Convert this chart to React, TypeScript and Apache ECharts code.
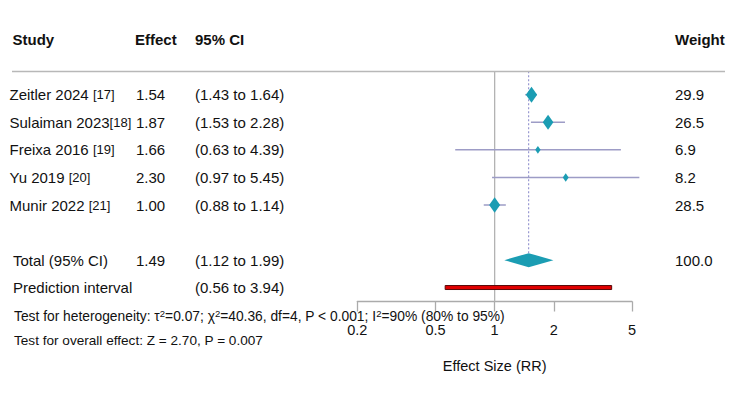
import React, { useEffect, useRef } from "react";
import * as echarts from "echarts";

// ---------- data ----------
const headers = ["Study", "Effect", "95% CI", "Weight"];
const studyNames = ["Zeitler 2024 ", "Sulaiman 2023", "Freixa 2016 ", "Yu 2019 ", "Munir 2022 "];
const studyRefs = ["[17]", "[18]", "[19]", "[20]", "[21]"];
const effects = [1.54, 1.87, 1.66, 2.3, 1.0];
const lowerCI = [1.43, 1.53, 0.63, 0.97, 0.88];
const upperCI = [1.64, 2.28, 4.39, 5.45, 1.14];
const weights = [29.9, 26.5, 6.9, 8.2, 28.5];
const studyRows = [0, 1, 2, 3, 4];

const totalLabel = "Total (95% CI)";
const totalValues = [1.49, 1.12, 1.99]; // effect, lower, upper
const totalWeight = 100.0;
const totalRow = 6;

const predictionLabel = "Prediction interval";
const predictionValues = [0.56, 3.94];
const predictionRow = 7;

const xTicks = [0.2, 0.5, 1, 2, 5];
const xAxisName = "Effect Size (RR)";

const heterogeneity = { tau2: "0.07", chi2: "40.36", df: "4", p: "< 0.001", i2: "90%", i2Lo: "80%", i2Hi: "95%" };
const overall = { z: "2.70", p: "0.007" };

// ---------- style / layout ----------
const FONT = "'Liberation Sans', Arial, Helvetica, sans-serif";
const TEXT = "#111111";
const Y_MIN = -0.85;
const Y_MAX = 7.5;

export default function App() {
  const ref = useRef<HTMLDivElement>(null);

  useEffect(() => {
    if (!ref.current) return;
    const chart = echarts.init(ref.current, undefined, { renderer: "svg" });

    const tableRows = [
      ...studyNames.map((n, i) => ({
        row: studyRows[i],
        label: `{n|${n}}{r|${studyRefs[i]}}`,
        labelX: 9.5,
        effect: effects[i].toFixed(2),
        ci: `(${lowerCI[i].toFixed(2)} to ${upperCI[i].toFixed(2)})`,
        weight: weights[i].toFixed(1),
      })),
      {
        row: totalRow,
        label: `{n|${totalLabel}}`,
        labelX: 13,
        effect: totalValues[0].toFixed(2),
        ci: `(${totalValues[1].toFixed(2)} to ${totalValues[2].toFixed(2)})`,
        weight: totalWeight.toFixed(1),
      },
      {
        row: predictionRow,
        label: `{n|${predictionLabel}}`,
        labelX: 13,
        effect: "",
        ci: `(${predictionValues[0].toFixed(2)} to ${predictionValues[1].toFixed(2)})`,
        weight: "",
      },
    ];

    const rich = {
      n: { fontSize: 15, fontFamily: FONT, fill: TEXT, color: TEXT },
      r: { fontSize: 13, fontFamily: FONT, fill: TEXT, color: TEXT },
    };

    const txt = (x: number, y: number, text: string, extra: any = {}) => ({
      type: "text",
      x,
      y,
      style: {
        text,
        fontSize: 15,
        fontFamily: FONT,
        fill: TEXT,
        align: "left",
        textAlign: "left",
        verticalAlign: "middle",
        textVerticalAlign: "middle",
        ...extra,
      },
    });

    const hetText =
      `{t|Test for heterogeneity: τ}{s|2}{t|=${heterogeneity.tau2}; χ}{s|2}{t|=${heterogeneity.chi2}, df=${heterogeneity.df}, P ${heterogeneity.p}; I}{s|2}{t|=${heterogeneity.i2} (${heterogeneity.i2Lo} to ${heterogeneity.i2Hi})}`;
    const overallText = `Test for overall effect: Z = ${overall.z}, P = ${overall.p}`;

    const headerX = [12.5, 135, 195, 675];

    const option: any = {
      animation: false,
      grid: {
        left: 357.3,
        top: 94.7 + Y_MIN * 27.575,
        width: 632 - 357.3,
        height: (Y_MAX - Y_MIN) * 27.575,
        outerBoundsMode: "none",
        containLabel: false,
      },
      xAxis: {
        type: "log",
        logBase: 10,
        min: 0.2,
        max: 5,
        name: xAxisName,
        nameLocation: "middle",
        nameGap: 56.5,
        nameTextStyle: { fontSize: 14.5, fontFamily: FONT, color: TEXT },
        axisLine: { show: true, onZero: false, lineStyle: { color: "#ababab", width: 1.3 } },
        axisTick: { show: true, length: 10, customValues: xTicks, lineStyle: { color: "#ababab", width: 1.3 } },
        minorTick: { show: false },
        splitLine: { show: false },
        axisLabel: {
          customValues: xTicks,
          margin: 20.5,
          fontSize: 14.5,
          fontFamily: FONT,
          color: TEXT,
          formatter: (v: number) => {
            const t = xTicks.find((k) => Math.abs(k - v) < 1e-6);
            return t !== undefined ? String(t) : "";
          },
        },
      },
      yAxis: { type: "value", min: Y_MIN, max: Y_MAX, inverse: true, show: false },
      series: [
        // null line at 1
        {
          type: "custom",
          z: 1,
          data: [[1, Y_MIN, Y_MAX]],
          encode: { x: 0, y: 1 },
          renderItem: (_p: any, api: any) => {
            const a = api.coord([api.value(0), api.value(1)]);
            const b = api.coord([api.value(0), api.value(2)]);
            return {
              type: "line",
              shape: { x1: a[0], y1: a[1], x2: b[0], y2: b[1] },
              style: { stroke: "#b3b3b3", lineWidth: 1.3 },
            };
          },
        },
        // dotted line at pooled estimate
        {
          type: "custom",
          z: 2,
          data: [[totalValues[0], Y_MIN, totalRow]],
          encode: { x: 0, y: 1 },
          renderItem: (_p: any, api: any) => {
            const a = api.coord([api.value(0), api.value(1)]);
            const b = api.coord([api.value(0), api.value(2)]);
            return {
              type: "line",
              shape: { x1: a[0], y1: a[1], x2: b[0], y2: b[1] - 7 },
              style: { stroke: "#8585c8", lineWidth: 1, lineDash: [2, 2] },
            };
          },
        },
        // studies
        {
          type: "custom",
          z: 3,
          data: studyRows.map((r, i) => [effects[i], r, lowerCI[i], upperCI[i], weights[i]]),
          encode: { x: 0, y: 1 },
          renderItem: (_p: any, api: any) => {
            const row = api.value(1);
            const [xe, y] = api.coord([api.value(0), row]);
            const [xl] = api.coord([api.value(2), row]);
            const [xh] = api.coord([api.value(3), row]);
            const h = (2.95 * Math.sqrt(api.value(4))) / 2;
            const w = h * 0.7;
            return {
              type: "group",
              children: [
                {
                  type: "line",
                  shape: { x1: xl, y1: y, x2: xh, y2: y },
                  style: { stroke: "#9d9cc6", lineWidth: 1.5 },
                },
                {
                  type: "polygon",
                  shape: { points: [[xe - w, y], [xe, y - h], [xe + w, y], [xe, y + h]] },
                  style: { fill: "#1b9db3" },
                },
              ],
            };
          },
        },
        // pooled diamond
        {
          type: "custom",
          z: 3,
          data: [[totalValues[0], totalRow, totalValues[1], totalValues[2]]],
          encode: { x: 0, y: 1 },
          renderItem: (_p: any, api: any) => {
            const row = api.value(1);
            const [xe, y] = api.coord([api.value(0), row]);
            const [xl] = api.coord([api.value(2), row]);
            const [xh] = api.coord([api.value(3), row]);
            return {
              type: "polygon",
              shape: { points: [[xl, y], [xe, y - 7], [xh, y], [xe, y + 7]] },
              style: { fill: "#1b9db3" },
            };
          },
        },
        // prediction interval
        {
          type: "custom",
          z: 3,
          data: [[predictionValues[0], predictionRow, predictionValues[1]]],
          encode: { x: 0, y: 1 },
          renderItem: (_p: any, api: any) => {
            const row = api.value(1);
            const [xl, y] = api.coord([api.value(0), row]);
            const [xh] = api.coord([api.value(2), row]);
            return {
              type: "rect",
              shape: { x: xl, y: y - 2.2, width: xh - xl, height: 4 },
              style: { fill: "#e00000", stroke: "#5a0a0a", lineWidth: 1 },
            };
          },
        },
        // table text columns
        {
          type: "custom",
          z: 4,
          data: tableRows.map((r) => [1, r.row]),
          encode: { x: 0, y: 1 },
          renderItem: (p: any, api: any) => {
            const r = tableRows[p.dataIndex];
            const y = api.coord([1, api.value(1)])[1];
            const children: any[] = [txt(r.labelX, y, r.label, { rich })];
            if (r.effect) children.push(txt(136, y, r.effect));
            if (r.ci) children.push(txt(195, y, r.ci));
            if (r.weight) children.push(txt(675, y, r.weight));
            return { type: "group", children };
          },
        },
      ],
      graphic: [
        ...headers.map((h, i) => ({
          type: "text",
          x: headerX[i],
          y: 39,
          z: 10,
          style: {
            text: h,
            fontSize: 15,
            fontWeight: "bold",
            fontFamily: FONT,
            fill: TEXT,
            align: "left",
            textAlign: "left",
            verticalAlign: "middle",
            textVerticalAlign: "middle",
          },
        })),
        {
          type: "line",
          z: 10,
          shape: { x1: 12, y1: 71.5, x2: 725, y2: 71.5 },
          style: { stroke: "#b8b8b8", lineWidth: 1.5 },
        },
        {
          type: "text",
          x: 14,
          y: 316,
          z: 10,
          style: {
            text: hetText,
            fontSize: 13.8,
            fontFamily: FONT,
            fill: TEXT,
            align: "left",
            textAlign: "left",
            verticalAlign: "middle",
            textVerticalAlign: "middle",
            rich: {
              t: { fontSize: 13.8, fontFamily: FONT, fill: TEXT, lineHeight: 16 },
              s: { fontSize: 9.5, fontFamily: FONT, fill: TEXT, lineHeight: 7, verticalAlign: "top" },
            },
          },
        },
        {
          type: "text",
          x: 14,
          y: 340.5,
          z: 10,
          style: {
            text: overallText,
            fontSize: 13.6,
            fontFamily: FONT,
            fill: TEXT,
            align: "left",
            textAlign: "left",
            verticalAlign: "middle",
            textVerticalAlign: "middle",
          },
        },
      ],
    };

    chart.setOption(option);
    return () => chart.dispose();
  }, []);

  return (
    <div
      ref={ref}
      style={{ position: "fixed", left: 0, top: 0, width: 750, height: 395, background: "#ffffff" }}
    />
  );
}
